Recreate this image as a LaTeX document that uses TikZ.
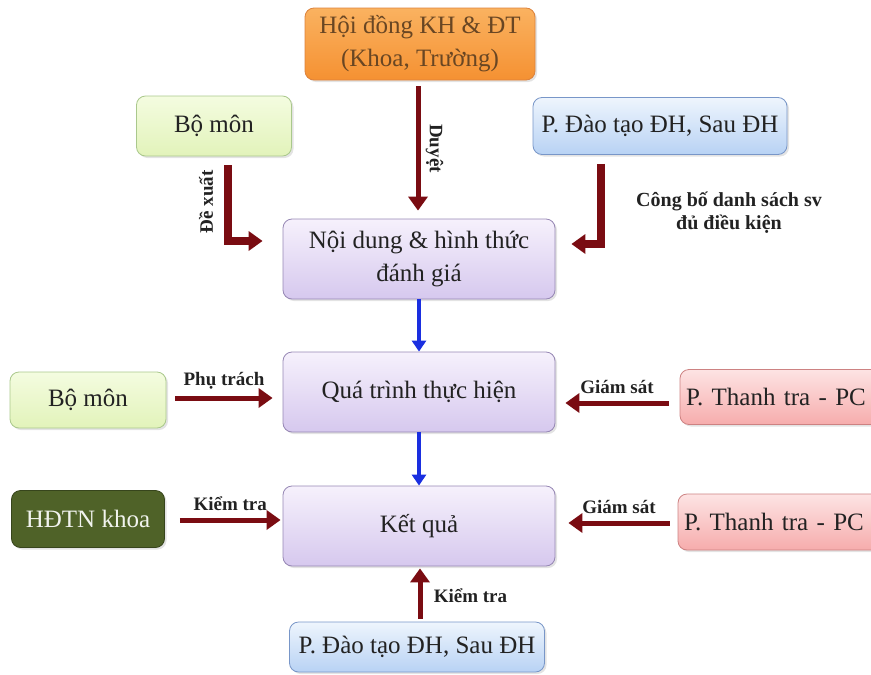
\documentclass[tikz,border=0pt]{standalone}
\usepackage{fontspec}
\setmainfont{Liberation Serif}
\usetikzlibrary{arrows.meta,calc,shadows}
\definecolor{arrred}{HTML}{7A0C12}
\definecolor{arrblue}{HTML}{1A2FE0}
\definecolor{txt}{HTML}{222222}
\definecolor{pTop}{RGB}{246,241,252}\definecolor{pBot}{RGB}{214,200,238}\definecolor{pLine}{RGB}{150,135,180}
\definecolor{gTop}{RGB}{244,252,224}\definecolor{gBot}{RGB}{226,243,186}\definecolor{gLine}{RGB}{170,200,140}
\definecolor{bTop}{RGB}{238,245,253}\definecolor{bBot}{RGB}{184,210,244}\definecolor{bLine}{RGB}{120,150,200}
\definecolor{rTop}{RGB}{253,228,228}\definecolor{rBot}{RGB}{246,172,172}\definecolor{rLine}{RGB}{205,130,130}
\definecolor{oTop}{RGB}{250,178,96}\definecolor{oBot}{RGB}{245,145,50}\definecolor{oLine}{RGB}{220,130,60}
\definecolor{olv}{RGB}{79,98,40}
\tikzset{
  box/.style={draw, rounded corners=9pt, line width=0.8pt, align=center, text=txt, font=\fontsize{25}{33}\selectfont, inner sep=2pt,
    drop shadow={shadow xshift=2pt, shadow yshift=-2pt, opacity=0.22}},
  purplebox/.style={box, draw=pLine, top color=pTop, bottom color=pBot, minimum width=272pt, minimum height=80pt},
  greenbox/.style={box, draw=gLine, top color=gTop, bottom color=gBot},
  bluebox/.style={box, draw=bLine, top color=bTop, bottom color=bBot},
  redbox/.style={box, draw=rLine, top color=rTop, bottom color=rBot},
  orangebox/.style={box, draw=oLine, top color=oTop, bottom color=oBot, text=brown!55!black},
  olivebox/.style={box, draw=olv!70!black, fill=olv, text=white!92!olv},
  redarr/.style={draw=arrred, line width=#1, -{Triangle[length=14pt,width=19pt]}},
  bluearr/.style={draw=arrblue, line width=4pt, -{Triangle[length=11pt,width=14pt]}},
  lbl/.style={font=\bfseries\fontsize{19}{22}\selectfont, text=txt},
}
\begin{document}
\begin{tikzpicture}[x=1pt,y=-1pt]
\useasboundingbox (0,0) rectangle (871,675);
% central column
\node[purplebox] (nd) at (419,259) {Nội dung \& hình thức\\đánh giá};
\node[purplebox] (qt) at (419,392) {Quá trình thực hiện};
\node[purplebox] (kq) at (419,526) {Kết quả};
% top
\node[orangebox, minimum width=230pt, minimum height=72pt] (hd) at (420,44) {Hội đồng KH \& ĐT\\(Khoa, Trường)};
\node[greenbox, minimum width=155pt, minimum height=60pt] (bm1) at (214,126) {Bộ môn};
\node[bluebox, minimum width=254pt, minimum height=57pt] (pdt1) at (660,126) {P. Đào tạo ĐH, Sau ĐH};
% middle rows
\node[greenbox, minimum width=156pt, minimum height=56pt] (bm2) at (88,400) {Bộ môn};
\node[redbox, minimum width=210pt, minimum height=55pt, text width=198pt, align=left] (tt1) at (785,397) {P. Thanh tra - PC};
\node[olivebox, minimum width=153pt, minimum height=57pt] (hdtn) at (88,519) {HĐTN khoa};
\node[redbox, minimum width=210pt, minimum height=56pt, text width=198pt, align=left] (tt2) at (783,522) {P. Thanh tra - PC};
% bottom
\node[bluebox, minimum width=255pt, minimum height=50pt] (pdt2) at (417,647) {P. Đào tạo ĐH, Sau ĐH};

% arrows
\draw[redarr=5pt] ($(hd.south)+(-2,6)$) -- ($(nd.north)+(-1,-8)$) node[midway, right=2pt, lbl, rotate=-90, anchor=south] {Duyệt};
\draw[redarr=8pt] ($(bm1.south)+(14,9)$) |- ($(nd.west)+(-20,-18)$);
\node[lbl, rotate=90] (dx) at (206,202) {Đề xuất};
\draw[redarr=8pt] ($(pdt1.south)+(-59,9)$) |- ($(nd.east)+(16,-15)$);
\node[lbl, align=center, font=\bfseries\fontsize{20}{23}\selectfont] (cb) at (729,213) {Công bố danh sách sv\\đủ điều kiện};
\draw[bluearr] (nd.south) -- (qt.north);
\draw[bluearr] (qt.south) -- (kq.north);
\draw[redarr=5pt] ($(bm2.east)+(9,-2)$) -- ($(qt.west)+(-10,6)$) node[midway, above=3pt, lbl] {Phụ trách};
\draw[redarr=5pt] ($(tt1.west)+(-11,6)$) -- ($(qt.east)+(10,11)$) node[midway, above=3pt, lbl] {Giám sát};
\draw[redarr=5pt] ($(hdtn.east)+(15,1)$) -- ($(kq.west)+(-2,-6)$) node[midway, above=3pt, lbl] {Kiểm tra};
\draw[redarr=5pt] ($(tt2.west)+(-8,1)$) -- ($(kq.east)+(13,-3)$) node[midway, above=3pt, lbl] {Giám sát};
\draw[redarr=5pt] ($(pdt2.north)+(3,-3)$) -- ($(kq.south)+(1,2)$) node[pos=0.45, right=8pt, lbl] {Kiểm tra};
\end{tikzpicture}
\end{document}
